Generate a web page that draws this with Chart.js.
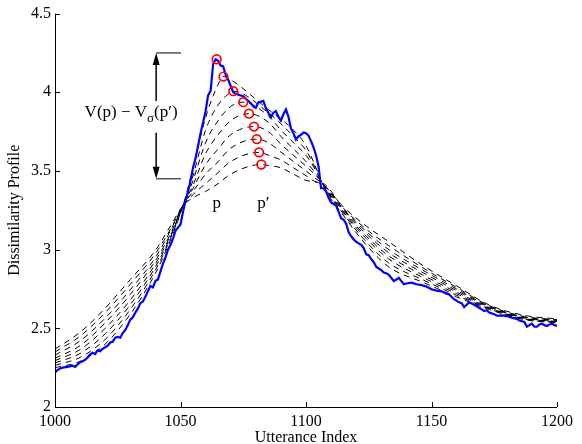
<!DOCTYPE html>
<html>
<head>
<meta charset="utf-8">
<script src="https://cdn.jsdelivr.net/npm/chart.js@4"></script>
<style>
  html, body { margin: 0; padding: 0; background: #fff; }
  canvas { display: block; }
</style>
</head>
<body>
<canvas id="grafica" width="582" height="444"></canvas>
<script>
// ejes
const xTicks = [1000, 1050, 1100, 1150, 1200];
const yTicks = [2, 2.5, 3, 3.5, 4, 4.5];

// perfil original (azul)
const perfilX = [1000,1001,1002,1003,1005,1007,1008,1009,1010,1011,1012,1013,1014,1015,1016,1017,1018,1019,1020,
  1021,1022,1023,1024,1025,1026,1027,1028,1029,1030,1031,1032,1033,1034,1035,1036,1037,1038,1039,1040,
  1041,1042,1043,1044,1045,1046,1047,1048,1049,1050,1051,1052,1053,1054,1055,1056,1057,1058,1059,1060,
  1061,1062,1063,1064,1065,1066,1067,1068,1069,1070,1071,1072,1073,1074,1075,1076,1077,1078,1079,1080,
  1081,1082,1083,1084,1085,1086,1087,1088,1089,1090,1091,1092,1093,1094,1095,1096,1097,1098,1099,1100,
  1101,1102,1103,1104,1105,1106,1107,1108,1109,1110,1111,1112,1113,1114,1115,1116,1117,1118,1119,1120,
  1121,1122,1123,1124,1125,1126,1127,1128,1129,1130,1131,1132,1133,1134,1135,1136,1137,1138,1139,1140,
  1142,1144,1146,1148,1150,1152,1154,1156,1157,1159,1161,1162,1163,1164,1165,1167,1168,1170,1171,1172,
  1173,1175,1176,1178,1180,1182,1184,1185,1187,1188,1189,1190,1191,1192,1193,1194,1195,1196,1197,1198,
  1199,1200];
const perfilY = [2.22,2.235,2.245,2.25,2.255,2.262,2.255,2.27,2.285,2.29,2.30,2.315,2.335,2.345,2.337,2.36,2.355,2.37,2.38,
  2.39,2.41,2.415,2.44,2.445,2.44,2.47,2.49,2.52,2.555,2.57,2.60,2.625,2.66,2.67,2.70,2.735,2.77,2.76,2.80,
  2.81,2.86,2.91,2.95,3.00,3.03,3.07,3.12,3.14,3.16,3.24,3.31,3.37,3.44,3.52,3.58,3.66,3.74,3.81,3.88,
  3.98,4.01,4.18,4.21,4.20,4.17,4.165,4.11,4.08,4.04,4.00,3.99,3.985,3.98,3.975,3.96,3.945,3.93,3.91,3.90,
  3.935,3.94,3.945,3.90,3.87,3.84,3.87,3.88,3.845,3.82,3.86,3.89,3.845,3.77,3.74,3.70,3.72,3.73,3.745,3.74,
  3.725,3.69,3.65,3.60,3.53,3.39,3.39,3.37,3.33,3.30,3.29,3.28,3.24,3.20,3.19,3.165,3.11,3.085,3.065,3.05,
  3.04,3.03,3.01,2.97,2.965,2.94,2.92,2.89,2.88,2.87,2.855,2.85,2.84,2.82,2.80,2.81,2.82,2.80,2.78,2.785,
  2.79,2.78,2.775,2.765,2.748,2.74,2.735,2.72,2.715,2.685,2.665,2.66,2.635,2.65,2.665,2.65,2.64,2.62,2.61,2.615,
  2.60,2.59,2.58,2.582,2.578,2.568,2.56,2.55,2.54,2.51,2.52,2.53,2.51,2.51,2.525,2.53,2.52,2.515,2.525,2.53,
  2.52,2.515];

const suaveX = [1000,1010,1020,1030,1040,1046,1051,1055,1060,1065,1070,1085,1090,1095,1100,1104,1107,1115,1124,1133,1147,1160,1173,1187,1200];
const s1 = [2.25,2.29,2.40,2.59,2.85,3.06,3.28,3.52,3.84,4.05,4.08,3.89,3.83,3.76,3.66,3.52,3.40,3.215,3.03,2.89,2.79,2.70,2.62,2.555,2.535];
const s2 = [2.265,2.315,2.43,2.62,2.87,3.07,3.28,3.47,3.76,3.92,4.00,3.87,3.80,3.72,3.63,3.51,3.405,3.225,3.05,2.915,2.805,2.71,2.624,2.558,2.538];
const s3 = [2.28,2.34,2.465,2.65,2.89,3.08,3.28,3.44,3.68,3.82,3.91,3.85,3.76,3.68,3.60,3.50,3.41,3.235,3.07,2.94,2.82,2.72,2.628,2.561,2.541];
const s4 = [2.295,2.365,2.50,2.68,2.91,3.09,3.28,3.41,3.61,3.73,3.82,3.81,3.72,3.64,3.56,3.48,3.41,3.24,3.085,2.96,2.835,2.73,2.632,2.564,2.544];
const s5 = [2.31,2.39,2.535,2.715,2.93,3.10,3.28,3.39,3.54,3.64,3.73,3.75,3.67,3.60,3.53,3.47,3.415,3.25,3.10,2.98,2.85,2.74,2.636,2.567,2.547];
const s6 = [2.33,2.42,2.565,2.745,2.95,3.12,3.28,3.37,3.48,3.56,3.645,3.68,3.62,3.56,3.50,3.45,3.415,3.255,3.115,3.00,2.865,2.75,2.64,2.571,2.551];
const s7 = [2.35,2.45,2.60,2.78,2.975,3.13,3.28,3.35,3.42,3.49,3.56,3.60,3.57,3.52,3.47,3.43,3.42,3.262,3.13,3.025,2.88,2.76,2.644,2.575,2.555];
const s8 = [2.368,2.475,2.628,2.81,2.995,3.15,3.28,3.33,3.37,3.42,3.48,3.535,3.52,3.48,3.44,3.43,3.41,3.27,3.15,3.05,2.895,2.77,2.648,2.582,2.56];

// maximos (circulos rojos): el primero es el del perfil original
const picoX = [1064.4, 1067.1, 1071.0, 1075.0, 1077.3, 1079.3, 1080.4, 1081.3, 1082.2];
const picoY = [4.21, 4.10, 4.007, 3.937, 3.864, 3.782, 3.702, 3.618, 3.541];

// anotaciones (en unidades de datos)
const flechaX = 1040.3;
const flechaFinX = 1050.2;
const vArriba = 4.25;
const vAbajo = 3.45;

const fuente = "'Liberation Serif', 'Times New Roman', serif";

function puntos(xs, ys) {
    return xs.map((x, i) => ({ x: x, y: ys[i] }));
}

// curva suavizada + su maximo, ordenados por x
function curva(ys, k) {
    const pts = puntos(suaveX, ys);
    pts.push({ x: picoX[k], y: picoY[k] });
    pts.sort((a, b) => a.x - b.x);
    return pts;
}

const suaves = [s1, s2, s3, s4, s5, s6, s7, s8];

const datasets = [
    {
        data: puntos(picoX, picoY),
        showLine: false,
        pointRadius: 4.3,
        pointBorderWidth: 1.7,
        pointBorderColor: '#ff0000',
        pointBackgroundColor: 'rgba(0,0,0,0)'
    },
    {
        data: puntos(perfilX, perfilY),
        borderColor: '#0000ff',
        borderWidth: 2.2,
        pointRadius: 0,
        tension: 0
    }
];

suaves.forEach((ys, i) => {
    datasets.push({
        data: curva(ys, i + 1),
        borderColor: '#000',
        borderWidth: 1,
        borderDash: [6, 5],
        pointRadius: 0,
        cubicInterpolationMode: 'monotone'
    });
});

// ejes con marcas hacia dentro y textos del dibujo
const anotaciones = {
    id: 'anotaciones',
    afterDraw(chart) {
        const { ctx, chartArea: a, scales: { x, y } } = chart;
        ctx.save();
        ctx.strokeStyle = '#000';
        ctx.fillStyle = '#000';
        ctx.lineWidth = 1;

        // ejes
        ctx.beginPath();
        ctx.moveTo(a.left + 0.5, a.top);
        ctx.lineTo(a.left + 0.5, a.bottom + 0.5);
        ctx.lineTo(a.right, a.bottom + 0.5);
        ctx.stroke();

        ctx.beginPath();
        yTicks.forEach(v => {
            const py = Math.round(y.getPixelForValue(v)) + 0.5;
            ctx.moveTo(a.left, py);
            ctx.lineTo(a.left + 5, py);
        });
        xTicks.forEach(v => {
            const px = Math.round(x.getPixelForValue(v)) + 0.5;
            ctx.moveTo(px, a.bottom);
            ctx.lineTo(px, a.bottom - 5);
        });
        ctx.stroke();

        // V(p) - V_sigma(p')
        const ax = x.getPixelForValue(flechaX);
        const ax2 = x.getPixelForValue(flechaFinX);
        const yTop = y.getPixelForValue(vArriba);
        const yBot = y.getPixelForValue(vAbajo);

        ctx.beginPath();
        ctx.moveTo(ax, yTop); ctx.lineTo(ax2, yTop);
        ctx.moveTo(ax, yBot); ctx.lineTo(ax2, yBot);
        ctx.stroke();

        ctx.lineWidth = 1.5;
        ctx.beginPath();
        ctx.moveTo(ax, yTop + 8); ctx.lineTo(ax, yTop + 48);
        ctx.moveTo(ax, yBot - 8); ctx.lineTo(ax, yBot - 46);
        ctx.stroke();

        ctx.beginPath();
        ctx.moveTo(ax, yTop);
        ctx.lineTo(ax - 3.5, yTop + 12);
        ctx.lineTo(ax + 3.5, yTop + 12);
        ctx.closePath();
        ctx.moveTo(ax, yBot);
        ctx.lineTo(ax - 3.5, yBot - 12);
        ctx.lineTo(ax + 3.5, yBot - 12);
        ctx.closePath();
        ctx.fill();

        const ty = (yTop + yBot) / 2 - 3;
        ctx.textBaseline = 'middle';
        ctx.textAlign = 'left';
        ctx.font = '17px ' + fuente;
        const t1 = 'V(p) \u2212 V';
        let tx = x.getPixelForValue(1011.8);
        ctx.fillText(t1, tx, ty);
        tx += ctx.measureText(t1).width;
        ctx.font = '13px ' + fuente;
        ctx.fillText('\u03c3', tx, ty + 6);
        tx += ctx.measureText('\u03c3').width;
        ctx.font = '17px ' + fuente;
        ctx.fillText('(p\u2032)', tx, ty);

        ctx.textAlign = 'center';
        ctx.fillText('p', x.getPixelForValue(picoX[0]), y.getPixelForValue(3.29));
        ctx.fillText('p\u2032', x.getPixelForValue(picoX[8]) + 2, y.getPixelForValue(3.29));
        ctx.restore();
    }
};

new Chart(document.getElementById('grafica').getContext('2d'), {
    type: 'line',
    data: { datasets: datasets },
    options: {
        responsive: false,
        animation: false,
        devicePixelRatio: 1,
        layout: { padding: { top: 10, right: 25, left: 0, bottom: -3 } },
        plugins: {
            legend: { display: false },
            tooltip: { enabled: false }
        },
        scales: {
            x: {
                type: 'linear',
                min: 1000,
                max: 1200,
                afterBuildTicks: s => { s.ticks = xTicks.map(v => ({ value: v })); },
                afterFit: s => { s.height = 40; },
                grid: { display: false, drawTicks: false },
                border: { display: false },
                ticks: {
                    color: '#000', font: { family: fuente, size: 16 }, padding: 5, maxRotation: 0,
                    callback: v => String(v)
                },
                title: {
                    display: true, text: 'Utterance Index', color: '#000',
                    font: { family: fuente, size: 16 }, padding: { top: 0, bottom: 0 }
                }
            },
            y: {
                min: 2,
                max: 4.5,
                afterBuildTicks: s => { s.ticks = yTicks.map(v => ({ value: v })); },
                afterFit: s => { s.width = 55; },
                grid: { display: false, drawTicks: false },
                border: { display: false },
                ticks: {
                    color: '#000', font: { family: fuente, size: 16 }, padding: 4,
                    callback: v => String(v)
                },
                title: {
                    display: true, text: 'Dissimilarity Profile', color: '#000',
                    font: { family: fuente, size: 16 }, padding: { top: 5, bottom: 0 }
                }
            }
        }
    },
    plugins: [anotaciones]
});
</script>
</body>
</html>
